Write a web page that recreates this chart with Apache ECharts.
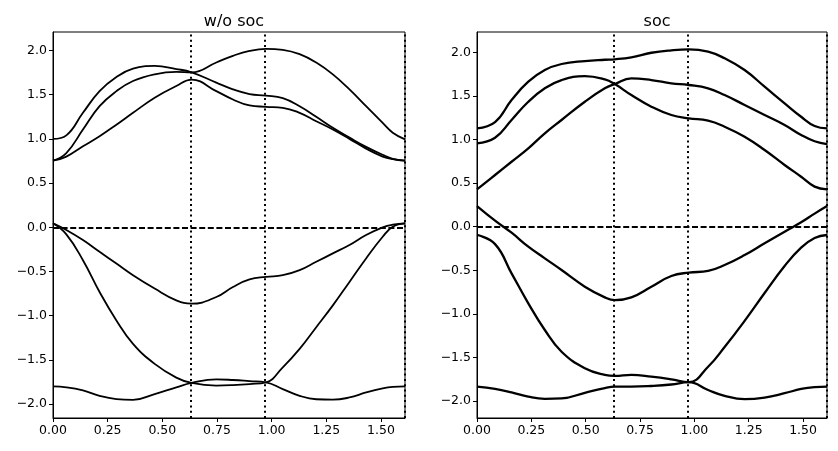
<!DOCTYPE html>
<html>
<head>
<meta charset="utf-8">
<title>bands</title>
<script src="https://cdn.jsdelivr.net/npm/echarts@6/dist/echarts.min.js"></script>
<style>
  html, body { margin: 0; padding: 0; background: #fff; }
  #main { width: 838px; height: 451px; }
</style>
</head>
<body>
<div id="main"></div>
<script>
// k-path sample points
const kLeft = [0, 0.061, 0.137, 0.213, 0.29, 0.366, 0.465, 0.564, 0.634, 0.747, 0.823, 0.899, 0.974, 1.051, 1.128, 1.204, 1.28, 1.356, 1.432, 1.508, 1.554, 1.61];
const kRight = [0, 0.083, 0.159, 0.236, 0.312, 0.389, 0.496, 0.588, 0.634, 0.71, 0.802, 0.894, 0.974, 1.063, 1.139, 1.231, 1.323, 1.415, 1.491, 1.553, 1.61];
const kTicks = [0.634, 0.974, 1.61];
const xTicks = [0, 0.25, 0.5, 0.75, 1.0, 1.25, 1.5];
const yTicks = [-2, -1.5, -1, -0.5, 0, 0.5, 1, 1.5, 2];
const titles = ['w/o soc', 'soc'];

// w/o soc
const ns1 = [1.0, 1.04, 1.295, 1.54, 1.70, 1.795, 1.825, 1.79, 1.753, 1.636, 1.56, 1.507, 1.49, 1.461, 1.37, 1.25, 1.125, 1.015, 0.91, 0.82, 0.775, 0.753];
const ns2 = [0.753, 0.84, 1.106, 1.37, 1.54, 1.655, 1.73, 1.757, 1.753, 1.864, 1.94, 1.995, 2.018, 2.007, 1.958, 1.864, 1.73, 1.56, 1.37, 1.18, 1.07, 0.995];
const ns3 = [0.753, 0.80, 0.916, 1.03, 1.16, 1.295, 1.466, 1.598, 1.67, 1.54, 1.446, 1.378, 1.363, 1.352, 1.295, 1.20, 1.106, 1.0, 0.89, 0.80, 0.77, 0.753];
const ns4 = [0.045, -0.03, -0.144, -0.277, -0.41, -0.542, -0.693, -0.826, -0.864, -0.788, -0.675, -0.59, -0.561, -0.542, -0.485, -0.39, -0.295, -0.2, -0.087, 0.0, 0.03, 0.045];
const ns5 = [0.045, -0.08, -0.372, -0.732, -1.053, -1.318, -1.545, -1.70, -1.761, -1.79, -1.785, -1.773, -1.754, -1.584, -1.375, -1.13, -0.883, -0.618, -0.352, -0.107, 0.007, 0.045];
const ns6 = [-1.80, -1.81, -1.845, -1.906, -1.943, -1.952, -1.886, -1.811, -1.761, -1.72, -1.727, -1.74, -1.754, -1.83, -1.906, -1.945, -1.95, -1.925, -1.868, -1.822, -1.805, -1.80];

// soc
const so1 = [1.128, 1.20, 1.453, 1.663, 1.797, 1.866, 1.90, 1.915, 1.92, 1.943, 1.995, 2.023, 2.034, 2.007, 1.931, 1.797, 1.606, 1.415, 1.261, 1.155, 1.128];
const so2 = [0.956, 1.02, 1.224, 1.433, 1.587, 1.682, 1.727, 1.69, 1.636, 1.51, 1.376, 1.281, 1.243, 1.216, 1.147, 1.032, 0.88, 0.708, 0.573, 0.46, 0.429];
const so3 = [0.429, 0.593, 0.745, 0.899, 1.071, 1.224, 1.433, 1.587, 1.636, 1.702, 1.682, 1.644, 1.625, 1.587, 1.51, 1.396, 1.281, 1.166, 1.052, 0.98, 0.948];
const so4 = [0.237, 0.07, -0.069, -0.229, -0.363, -0.497, -0.688, -0.81, -0.841, -0.81, -0.688, -0.565, -0.527, -0.508, -0.44, -0.325, -0.19, -0.057, 0.05, 0.15, 0.237];
const so5 = [-0.095, -0.2, -0.535, -0.879, -1.185, -1.434, -1.624, -1.70, -1.712, -1.70, -1.72, -1.75, -1.783, -1.606, -1.38, -1.08, -0.76, -0.45, -0.24, -0.13, -0.095];
const so6 = [-1.835, -1.86, -1.90, -1.95, -1.975, -1.97, -1.905, -1.85, -1.835, -1.835, -1.827, -1.81, -1.783, -1.873, -1.94, -1.978, -1.96, -1.91, -1.861, -1.84, -1.835];

const kMax = 1.61;
const yRange = [[-2.157, 2.209], [-2.194, 2.233]];
const font = 'DejaVu Sans';

const chart = echarts.init(document.getElementById('main'));

function pairs(ks, es) {
  return ks.map((k, i) => [k, es[i]]);
}

function bandSeries(gi, ks, bands, width) {
  const list = bands.map(b => ({
    type: 'line',
    xAxisIndex: gi,
    yAxisIndex: gi,
    data: pairs(ks, b),
    smooth: 0.45,
    showSymbol: false,
    silent: true,
    lineStyle: { color: '#000', width: width },
    z: 3
  }));
  // fermi level + high symmetry lines
  list[list.length - 1].markLine = {
    silent: true,
    symbol: 'none',
    label: { show: false },
    lineStyle: { color: '#000', width: 2 },
    data: [{ yAxis: 0, lineStyle: { type: [6, 2.6] } }].concat(
      kTicks.map(k => ({ xAxis: k, lineStyle: { type: [2, 3.3] } }))
    )
  };
  return list;
}

function xAxis(gi) {
  return {
    type: 'value',
    gridIndex: gi,
    min: 0,
    max: kMax,
    splitLine: { show: false },
    axisLine: { show: true, onZero: false, lineStyle: { color: '#000', width: 1 } },
    axisTick: { show: true, inside: false, length: 4, customValues: xTicks, lineStyle: { color: '#000' } },
    axisLabel: { customValues: xTicks, margin: 6, color: '#000', fontSize: 12.5, fontFamily: font, formatter: v => v.toFixed(2) }
  };
}

function yAxis(gi) {
  return {
    type: 'value',
    gridIndex: gi,
    min: yRange[gi][0],
    max: yRange[gi][1],
    splitLine: { show: false },
    axisLine: { show: true, onZero: false, lineStyle: { color: '#000', width: 1 } },
    axisTick: { show: true, inside: false, length: 4, customValues: yTicks, lineStyle: { color: '#000' } },
    axisLabel: { customValues: yTicks, margin: 6, color: '#000', fontSize: 12.5, fontFamily: font, formatter: v => v.toFixed(1).replace('-', '\u2212') }
  };
}

chart.setOption({
  animation: false,
  backgroundColor: '#fff',
  title: [
    { text: titles[0], left: 229, top: 9, textAlign: 'center', textStyle: { fontFamily: font, fontSize: 16, fontWeight: 'normal', color: '#000' } },
    { text: titles[1], left: 652, top: 9, textAlign: 'center', textStyle: { fontFamily: font, fontSize: 16, fontWeight: 'normal', color: '#000' } }
  ],
  grid: [
    { left: 53, top: 32, width: 352, height: 386, show: true, borderColor: '#000', borderWidth: 1, backgroundColor: 'transparent' },
    { left: 477, top: 32, width: 350, height: 386, show: true, borderColor: '#000', borderWidth: 1, backgroundColor: 'transparent' }
  ],
  xAxis: [xAxis(0), xAxis(1)],
  yAxis: [yAxis(0), yAxis(1)],
  series: bandSeries(0, kLeft, [ns1, ns2, ns3, ns4, ns5, ns6], 1.8)
    .concat(bandSeries(1, kRight, [so1, so2, so3, so4, so5, so6], 2.3))
});
</script>
</body>
</html>
